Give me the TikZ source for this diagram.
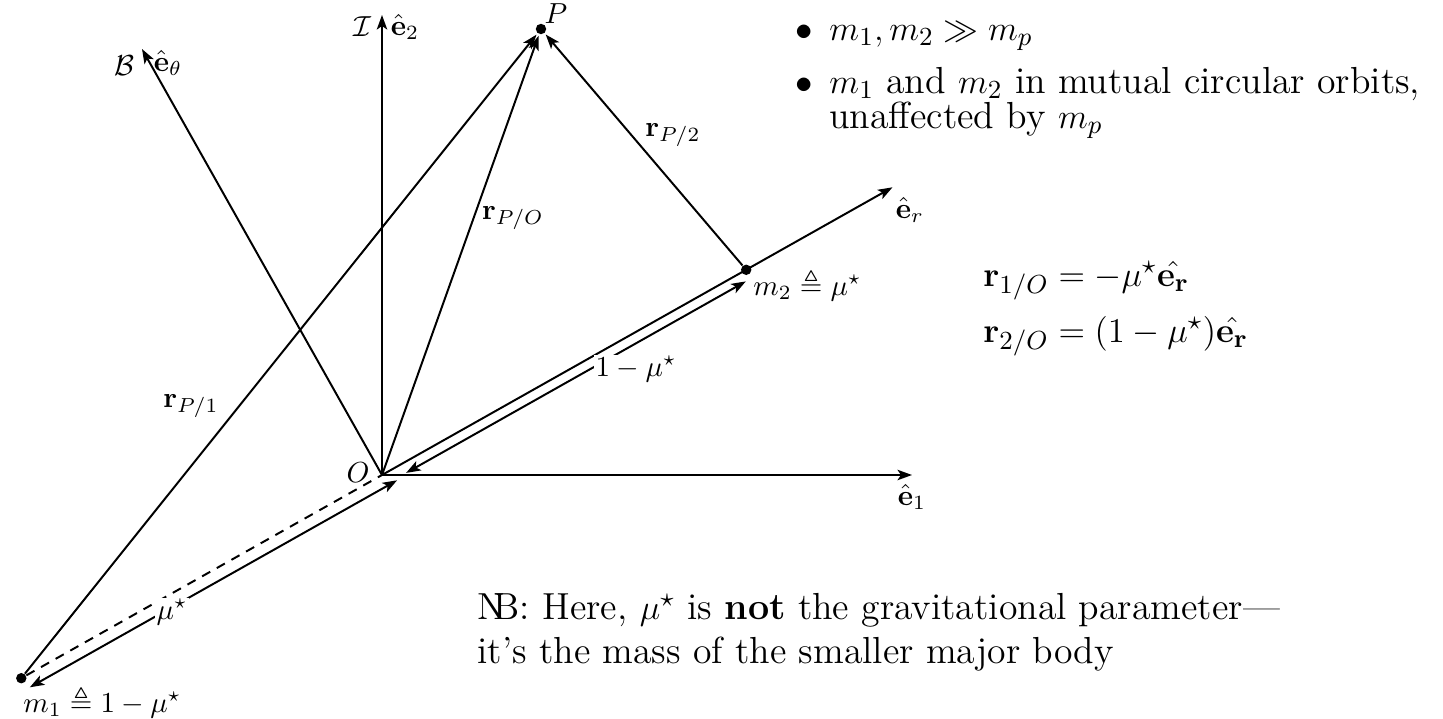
\documentclass[tikz,border=0pt]{standalone}
\usepackage{amsmath,amssymb}
\usetikzlibrary{arrows.meta,calc}
\begin{document}
\begin{tikzpicture}[x=0.345pt,y=-0.345pt,
  every node/.style={inner sep=1pt},
  ln/.style={line width=0.68pt},
  arr/.style={ln,-{Stealth[length=5pt,width=3.6pt,inset=1.2pt]}},
  darr/.style={ln,{Stealth[length=5pt,width=3.6pt,inset=1.2pt]}-{Stealth[length=5pt,width=3.6pt,inset=1.2pt]}},
  dot/.style={circle,fill=black,inner sep=0pt,minimum size=3.6pt},
  lbl/.style={font=\normalsize},
  btxt/.style={font=\fontsize{13}{15}\selectfont,anchor=base west},
  masklbl/.style={fill=white,inner sep=0.5pt}]
\useasboundingbox (0,0) rectangle (1443,719);
% points
\coordinate (O) at (382,475);
\coordinate (e1) at (912,475);
\coordinate (e2) at (382,15);
\coordinate (er) at (892.5,187.3);
\coordinate (et) at (142,49);
\node[dot] (P) at (541,29) {};
\node[dot] (m2) at (746.2,269.8) {};
\node[dot] (m1) at (21.3,678.2) {};
% dimension line ends
\coordinate (a1) at (406.1,472.9);
\coordinate (a2) at (745.8,281.4);
\coordinate (b1) at (397.1,480.3);
\coordinate (b2) at (29.8,687.3);
% axes
\draw[arr] (O) -- (e1);
\draw[arr] (O) -- (e2);
\draw[arr] (O) -- (er);
\draw[arr] (O) -- (et);
\draw[ln,dash pattern=on 3.2pt off 2.6pt] (m1) -- (O);
% position vectors
\draw[arr,shorten >=0.5pt] (O) -- (P);
\draw[arr,shorten >=0.5pt] (m1) -- (P);
\draw[arr,shorten >=0.5pt] (m2) -- (P);
% dimension lines
\draw[darr] (a1) -- (a2);
\draw[darr] (b1) -- (b2);
\node[masklbl] (lmu1) at (636,369) {$1-\mu^\star$};
\node[masklbl] (lmu) at (172,612) {$\mu^\star$};
% labels
\node[lbl] (lO) at (358,473) {$O$};
\node[lbl] (lP) at (556,14) {$P$};
\node[lbl] (lI) at (362,27) {$\mathcal{I}$};
\node[lbl] (le2) at (405,27) {$\hat{\mathbf{e}}_2$};
\node[lbl] (lB) at (124,66) {$\mathcal{B}$};
\node[lbl] (let) at (168,63) {$\hat{\mathbf{e}}_\theta$};
\node[lbl] (le1) at (912,497) {$\hat{\mathbf{e}}_1$};
\node[lbl] (ler) at (910,210) {$\hat{\mathbf{e}}_r$};
\node[lbl,anchor=west] (lm2) at (750,285) {$m_2 \triangleq \mu^\star$};
\node[lbl,anchor=west] (lm1) at (20,702) {$m_1 \triangleq 1-\mu^\star$};
\node[lbl] (rPO) at (513,218) {$\mathbf{r}_{P/O}$};
\node[lbl] (rP2) at (673,135) {$\mathbf{r}_{P/2}$};
\node[lbl] (rP1) at (191,406) {$\mathbf{r}_{P/1}$};
% right text
\node[btxt,anchor=base] (bu1) at (804,40) {$\bullet$};
\node[btxt] (t1) at (826,40) {$m_1, m_2 \gg m_p$};
\node[btxt,anchor=base] (bu2) at (804,93) {$\bullet$};
\node[btxt] (t2) at (826,93) {$m_1$ and $m_2$ in mutual circular orbits,};
\node[btxt] (t3) at (826,128) {unaffected by $m_p$};
\node[btxt] (eq1) at (980,286) {$\mathbf{r}_{1/O} = -\mu^\star\hat{\mathbf{e_r}}$};
\node[btxt] (eq2) at (980,342) {$\mathbf{r}_{2/O} = (1-\mu^\star)\hat{\mathbf{e_r}}$};
\node[btxt] (nb1) at (474,619) {N\kern-0.3em B: Here, $\mu^\star$ is \textbf{not} the gravitational parameter---};
\node[btxt] (nb2) at (474,663) {it's the mass of the smaller major body};
\end{tikzpicture}
\end{document}
